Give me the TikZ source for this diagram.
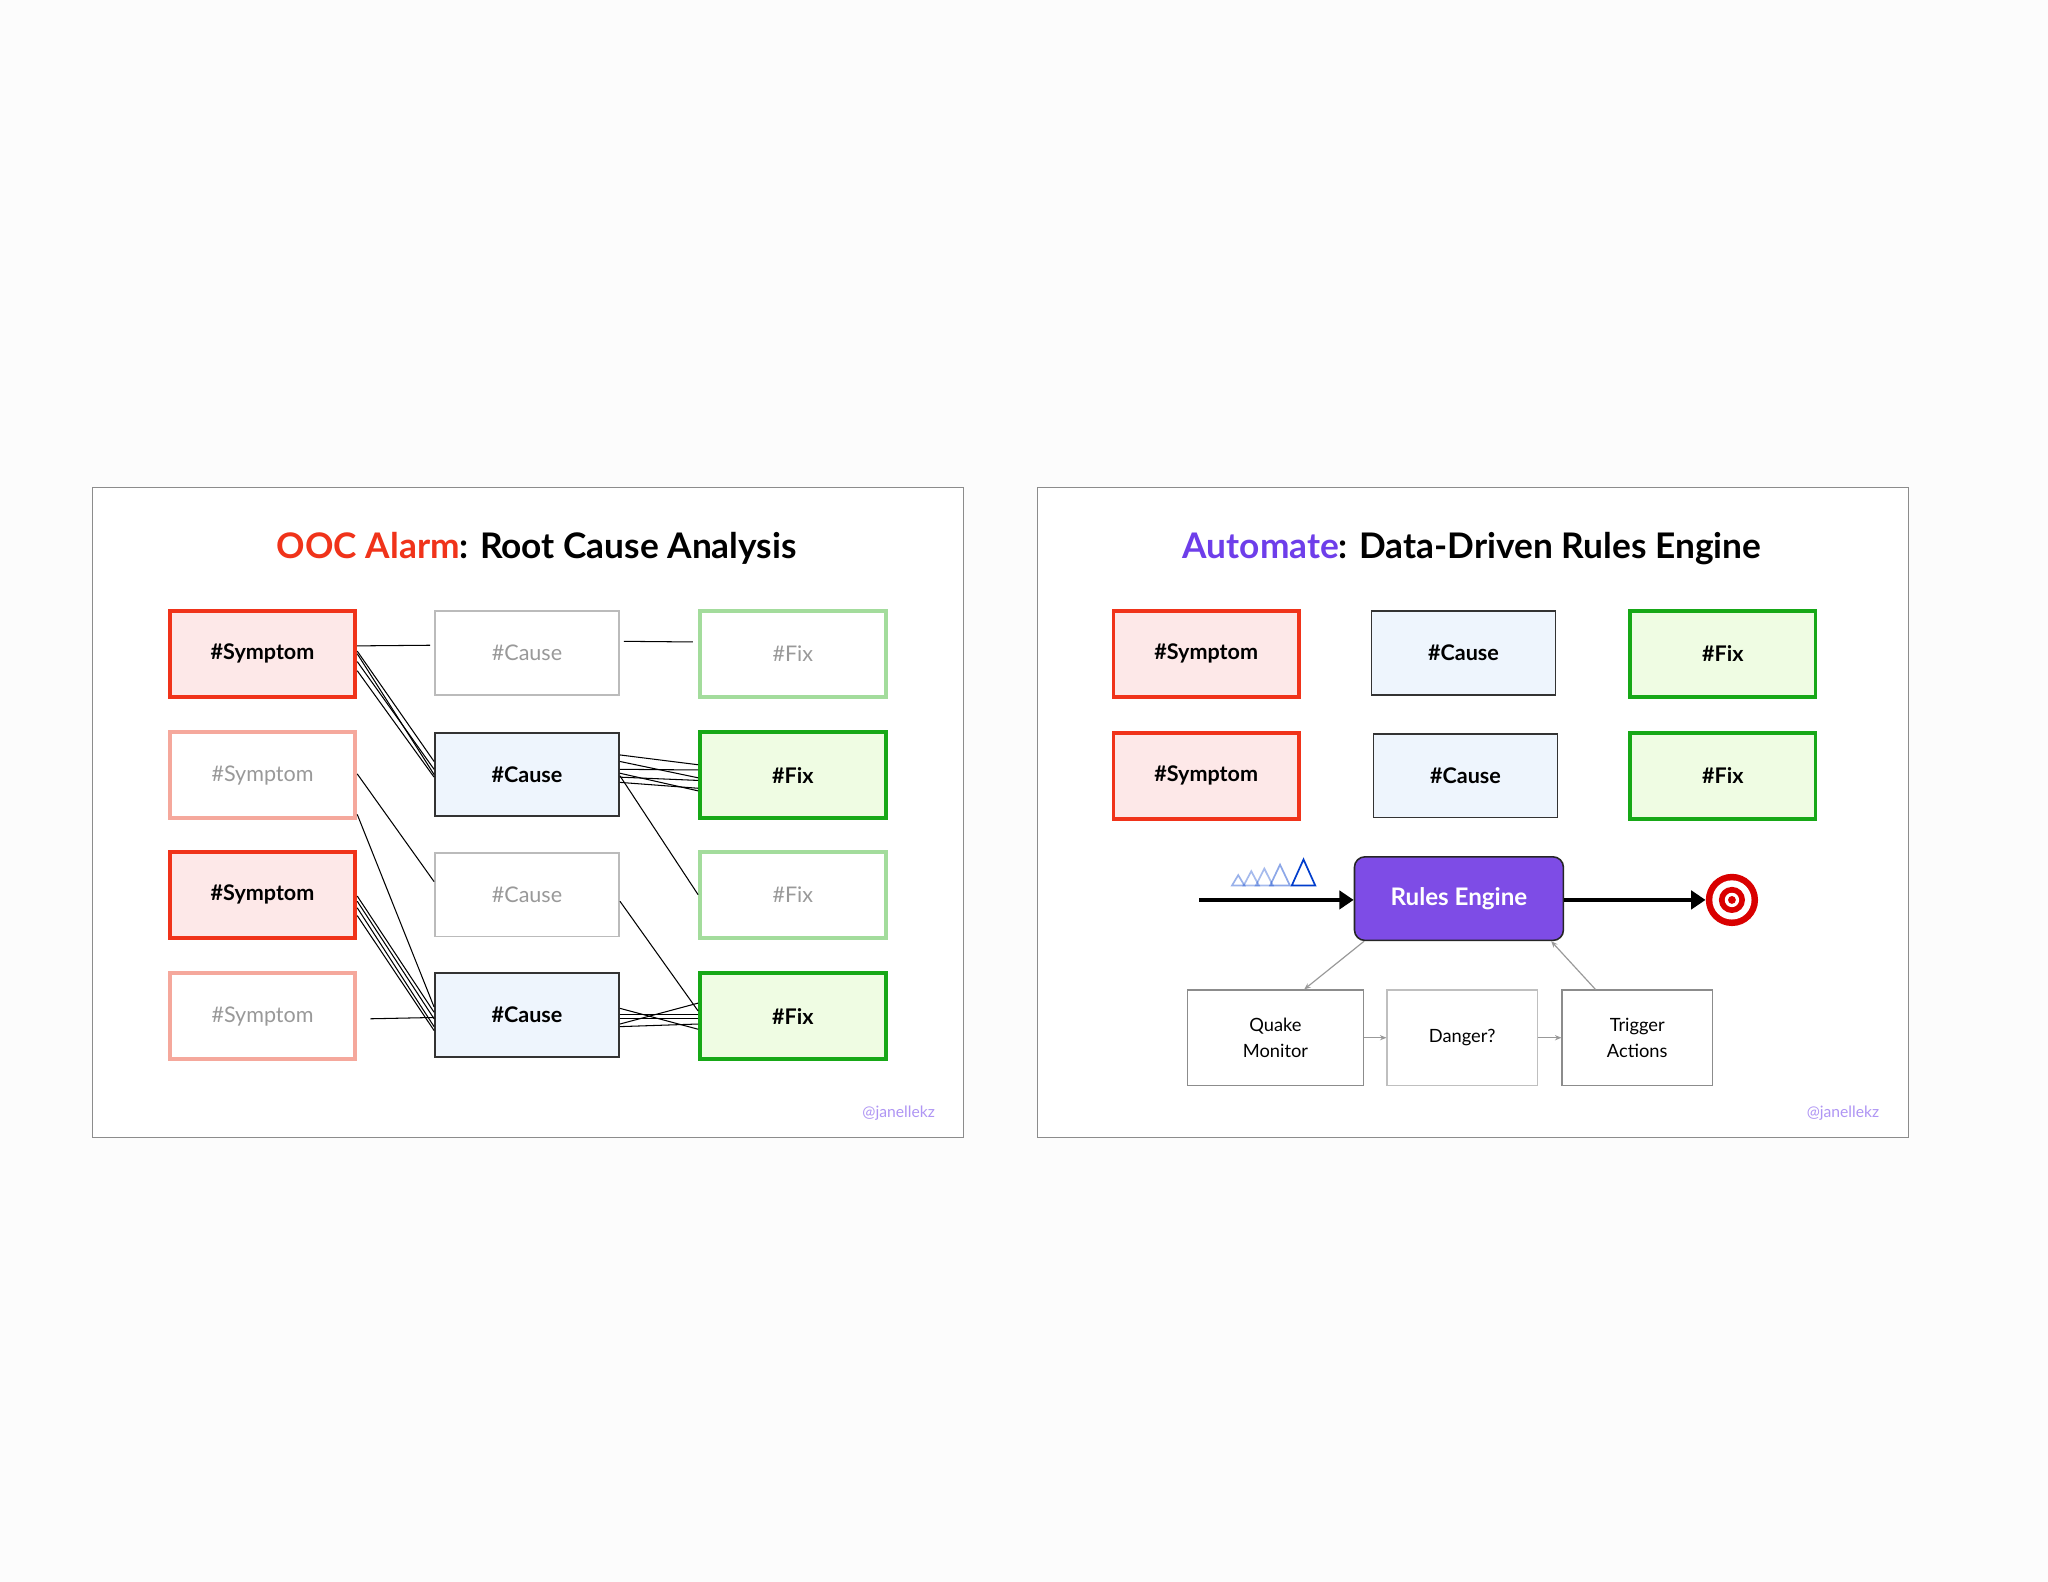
\documentclass[tikz,border=0pt]{standalone}
\usepackage{fontspec}
\setmainfont{Lato}
\usetikzlibrary{arrows.meta}
\definecolor{sred}{HTML}{F0331A}\definecolor{sfill}{HTML}{FDE8E8}\definecolor{sfade}{HTML}{F5A89C}
\definecolor{cfill}{HTML}{EEF5FD}\definecolor{cfade}{HTML}{BBBBBB}
\definecolor{fgreen}{HTML}{17A817}\definecolor{ffill}{HTML}{EFFCE3}\definecolor{ffade}{HTML}{A3DC9C}
\definecolor{purp}{HTML}{6E3EEA}\definecolor{eng}{HTML}{7E4CE6}\definecolor{tg}{HTML}{999999}
\begin{document}
\begin{tikzpicture}[x=1pt,y=-1pt,
 box/.style={draw,minimum width=142pt,minimum height=66pt,inner sep=0pt,font=\bfseries\fontsize{16.5}{19}\selectfont},
 sym/.style={box,line width=3pt,draw=sred,fill=sfill},
 symf/.style={box,line width=3pt,draw=sfade,fill=white,text=tg,font=\fontsize{16.5}{19}\selectfont},
 cau/.style={box,line width=1.3pt,draw=black!80,fill=cfill,minimum width=141pt,minimum height=64pt},
 cauf/.style={box,line width=1.3pt,draw=cfade,fill=white,text=tg,font=\fontsize{16.5}{19}\selectfont,minimum width=141pt,minimum height=64pt},
 fix/.style={box,line width=3pt,draw=fgreen,fill=ffill},
 fixf/.style={box,line width=3pt,draw=ffade,fill=white,text=tg,font=\fontsize{16.5}{19}\selectfont},
 lk/.style={line width=0.8pt},
 panel/.style={draw=black!45,fill=white,line width=0.8pt},
 sm/.style={draw=black!45,fill=white,line width=1pt,minimum height=73pt,align=center,font=\fontsize{14}{20}\selectfont},
 ga/.style={draw=black!40,line width=0.9pt,-{Stealth[length=5pt,width=4pt]}},
 title/.style={font=\bfseries\fontsize{27}{30}\selectfont},
 sig/.style={text=purp!55,font=\fontsize{12}{13}\selectfont}]
\fill[white!99!black] (0,0) rectangle (1568,1211);
\useasboundingbox (0,0) rectangle (1568,1211);
% ---------- left panel
\draw[panel] (71,373) rectangle (738,871);
\node[title] (t1) at (411,420) {\textcolor{sred}{OOC Alarm}: Root Cause Analysis};
\node[sym]  (s1) at (201,500.5) {\#Symptom};
\node[symf] (s2) at (201,593.5) {\#Symptom};
\node[sym]  (s3) at (201,685) {\#Symptom};
\node[symf] (s4) at (201,778) {\#Symptom};
\node[cauf] (c1) at (403.5,500) {\#Cause};
\node[cau]  (c2) at (403.5,593) {\#Cause};
\node[cauf] (c3) at (403.5,685) {\#Cause};
\node[cau]  (c4) at (403.5,777) {\#Cause};
\node[fixf] (f1) at (607,500.5) {\#Fix};
\node[fix]  (f2) at (607,593.5) {\#Fix};
\node[fixf] (f3) at (607,685) {\#Fix};
\node[fix]  (f4) at (607,778) {\#Fix};
\node[sig] (g1) at (688,852) {@janellekz};
% links
\draw[lk] ([yshift=6]s1.east) -- ([xshift=-3,yshift=6]c1.west);
\draw[lk] ([xshift=3,yshift=9]c1.east) -- ([xshift=-4,yshift=9]f1.west);
\foreach \a/\b in {2/10,0/0,-6/4,-13/-2}
  \draw[lk] ([yshift=\a]s1.east) -- ([yshift=\b]c2.west);
\foreach \a/\b in {15/8,10/-2,4/4,-2/-4,-6/-10,1/-12}
  \draw[lk] ([yshift=\a]c2.east) -- ([yshift=\b]f2.west);
\draw[lk] ([yshift=1]s2.east) -- ([yshift=10]c3.west);
\draw[lk] ([yshift=-30]s2.east) -- ([yshift=6]c4.west);
\draw[lk] ([yshift=-1]c2.east) -- ([yshift=0]f3.west);
\draw[lk] ([yshift=-5]c3.east) -- ([yshift=4]f4.west);
\foreach \a/\b in {-1/2,-5/-3,-10/-9,-16/-12}
  \draw[lk] ([yshift=\a]s3.east) -- ([yshift=\b]c4.west);
\draw[lk] ([xshift=10,yshift=-2]s4.east) -- ([yshift=-2]c4.west);
\foreach \a/\b in {5/-10,0/1,-3/-2,-7/10,-9/-6}
  \draw[lk] ([yshift=\a]c4.east) -- ([yshift=\b]f4.west);
% ---------- right panel
\draw[panel] (794,373) rectangle (1461,871);
\node[title] (t2) at (1127,420) {\textcolor{purp}{Automate}: Data-Driven Rules Engine};
\node[sym] (rs1) at (923.5,500.5) {\#Symptom};
\node[sym] (rs2) at (923.5,594) {\#Symptom};
\node[cau] (rc1) at (1120.5,500) {\#Cause};
\node[cau] (rc2) at (1122,594) {\#Cause};
\node[fix] (rf1) at (1319,500.5) {\#Fix};
\node[fix] (rf2) at (1319,594) {\#Fix};
\node[draw=black!85,line width=1.2pt,fill=eng,rounded corners=8pt,minimum width=160pt,minimum height=64pt,text=white,font=\bfseries\fontsize{18.5}{22}\selectfont] (re) at (1117,688) {Rules Engine};
\coordinate (in) at (918,689);
\draw[line width=3.2pt,-{Triangle[length=11pt,width=14pt]}] (in) -- (re.west |- in);
\node[circle,fill=red!85!black,minimum size=40pt,inner sep=0pt] (tg) at (1326,689) {};
\fill[white] (tg) circle (15pt);\fill[red!85!black] (tg) circle (10pt);\fill[white] (tg) circle (5.5pt);\fill[red!85!black] (tg) circle (3pt);
\draw[line width=3.2pt,-{Triangle[length=11pt,width=14pt]}] (re.east |- tg) -- (tg.west);
% mountains icon
\foreach \x/\h/\o in {948/8/0.4,958/11/0.35,968/13/0.35,980/16/0.45,998/20/1}
  \draw[blue!70!cyan!80!black,opacity=\o,line width=1.3pt] (\x-7*\h/20-2,678) -- (\x,678-\h) -- (\x+7*\h/20+2,678) -- cycle;
\node[sm,minimum width=135pt] (qm) at (976.5,794.5) {Quake\\Monitor};
\node[sm,minimum width=115pt,draw=black!25] (dg) at (1119.5,794.5) {Danger?};
\node[sm,minimum width=115pt] (ta) at (1253.5,794.5) {Trigger\\Actions};
\draw[ga] ([xshift=8]re.south west) -- ([xshift=22]qm.north);
\draw[ga] ([xshift=-32]ta.north) -- ([xshift=-10]re.south east);
\draw[ga] (qm.east) -- (dg.west);
\draw[ga] (dg.east) -- (ta.west);
\node[sig] (g2) at (1411,852) {@janellekz};
\end{tikzpicture}
\end{document}
